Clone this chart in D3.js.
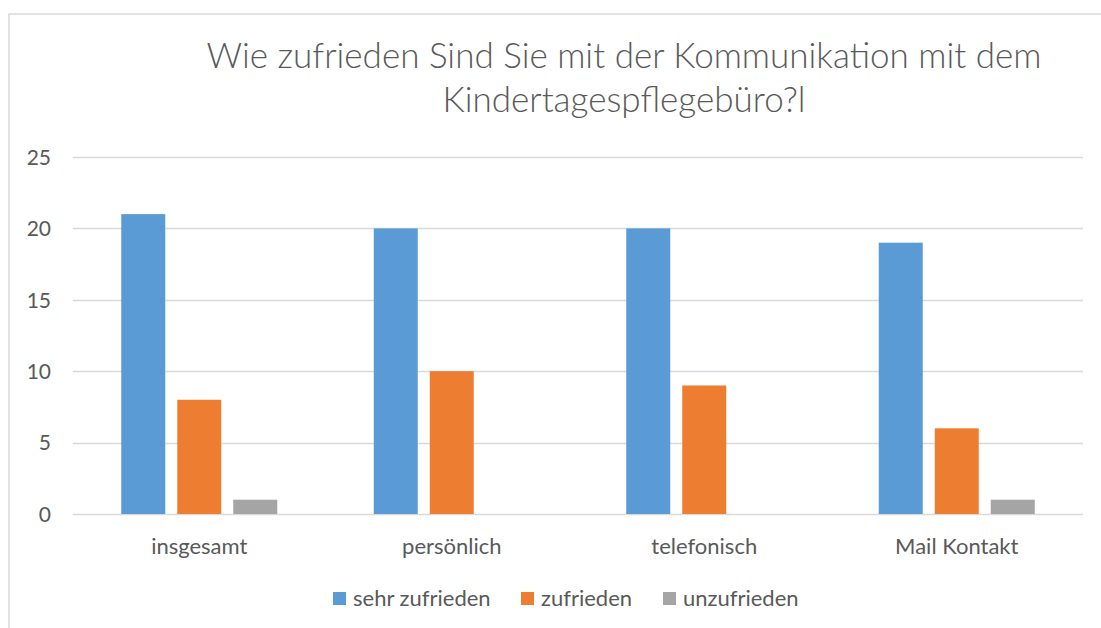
<!DOCTYPE html>
<html lang="de">
<head>
<meta charset="UTF-8">
<title>Kommunikation Kindertagespflegebüro</title>
<script src="https://d3js.org/d3.v7.min.js"></script>
<style>
  body { margin: 0; background: #fff; }
  text { font-family: Lato, "Open Sans", sans-serif; fill: #595959; }
</style>
</head>
<body>
<svg width="1101" height="628"></svg>
<script>
// data
var categories = ["insgesamt", "persönlich", "telefonisch", "Mail Kontakt"];
var seriesNames = ["sehr zufrieden", "zufrieden", "unzufrieden"];
var sehrZufrieden = [21, 20, 20, 19];
var zufrieden = [8, 10, 9, 6];
var unzufrieden = [1, 0, 0, 1];
var yTicks = [0, 5, 10, 15, 20, 25];
var colors = ["#5B9BD5", "#ED7D31", "#A5A5A5"];

var seriesValues = [sehrZufrieden, zufrieden, unzufrieden];

var svg = d3.select("svg");

// chart frame
svg.append("rect")
    .attr("x", 9)
    .attr("y", 14)
    .attr("width", 1110)
    .attr("height", 640)
    .attr("fill", "none")
    .attr("stroke", "#d9d9d9")
    .attr("stroke-width", 1.5);

var plotLeft = 73, plotRight = 1083, plotTop = 157, plotBottom = 514;

var x0 = d3.scaleBand().domain(categories).range([plotLeft, plotRight]);
var bw = x0.bandwidth();
var x1 = d3.scaleBand().domain(seriesNames)
    .range([(bw - 156) / 2, (bw + 156) / 2])
    .paddingInner(12 / 56);
var y = d3.scaleLinear().domain([0, 25]).range([plotBottom, plotTop]);

// gridlines
svg.append("g")
    .selectAll("line")
    .data(yTicks)
    .enter()
    .append("line")
    .attr("x1", plotLeft)
    .attr("x2", plotRight)
    .attr("y1", d => Math.round(y(d)) + 0.5)
    .attr("y2", d => Math.round(y(d)) + 0.5)
    .attr("stroke", "#d9d9d9")
    .attr("stroke-width", 1.3);

// y axis labels
var yAxis = svg.append("g")
    .attr("transform", "translate(" + (plotLeft - 22) + ",0)")
    .call(d3.axisLeft(y).tickValues(yTicks).tickSize(0).tickPadding(0));
yAxis.select(".domain").remove();
yAxis.selectAll("text")
    .attr("font-size", "21px")
    .attr("font-family", "Lato, sans-serif")
    .attr("fill", "#595959")
    .attr("dy", "0.35em");

// bars
var groups = svg.append("g")
    .selectAll("g")
    .data(categories)
    .enter()
    .append("g")
    .attr("transform", d => "translate(" + x0(d) + ",0)");

groups.selectAll("rect")
    .data((c, i) => seriesNames.map((s, j) => ({ s: s, v: seriesValues[j][i], j: j })))
    .enter()
    .append("rect")
    .attr("x", d => x1(d.s))
    .attr("width", x1.bandwidth())
    .attr("y", d => y(d.v))
    .attr("height", d => y(0) - y(d.v))
    .attr("fill", d => colors[d.j]);

// x axis labels
var xAxis = svg.append("g")
    .attr("transform", "translate(0," + (plotBottom + 24) + ")")
    .call(d3.axisBottom(x0).tickSize(0).tickPadding(0));
xAxis.select(".domain").remove();
xAxis.selectAll("text")
    .attr("font-size", "22px")
    .attr("font-family", "Lato, sans-serif")
    .attr("fill", "#595959");

// title
var title = svg.append("text")
    .attr("text-anchor", "middle")
    .attr("font-size", "35px")
    .attr("font-weight", 300);
title.append("tspan").attr("x", 624).attr("y", 68)
    .text("Wie zufrieden Sind Sie mit der Kommunikation mit dem");
title.append("tspan").attr("x", 624).attr("y", 112)
    .text("Kindertagespflegebüro?l");

// legend
var legendX = [333, 521, 663];
var legend = svg.append("g")
    .selectAll("g")
    .data(seriesNames)
    .enter()
    .append("g")
    .attr("transform", (d, i) => "translate(" + legendX[i] + ",592)");
legend.append("rect")
    .attr("width", 13)
    .attr("height", 13)
    .attr("fill", (d, i) => colors[i]);
legend.append("text")
    .attr("x", 20)
    .attr("y", 14)
    .attr("font-size", "22px")
    .text(d => d);
</script>
</body>
</html>
